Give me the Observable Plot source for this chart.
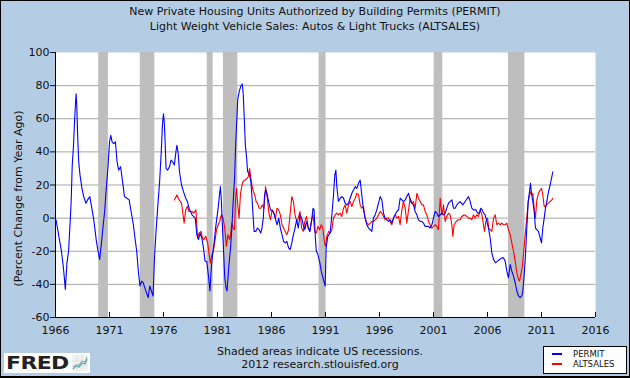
<!DOCTYPE html>
<html><head><meta charset="utf-8">
<script src="https://cdn.jsdelivr.net/npm/d3@7"></script>
<script src="https://cdn.jsdelivr.net/npm/@observablehq/plot@0.6"></script>
<style>
html,body{margin:0;padding:0;background:#b4cde4;}
#wrap{position:relative;width:630px;height:378px;background:#b4cde4;overflow:hidden;font-family:"DejaVu Sans",Verdana,sans-serif;color:#111;box-shadow:inset 0 0 0 1px #000, inset 0 -2px 0 #000;}
#wrap svg.plot{position:absolute;left:0;top:0;}
.t{position:absolute;white-space:nowrap;line-height:1;}
.title{left:0;width:630px;text-align:center;font-size:11px;}
.foot{left:0;width:640px;text-align:center;font-size:11px;}
#ylab{position:absolute;font-size:11px;width:260px;text-align:center;left:-112px;top:193px;transform:rotate(-90deg);line-height:1;white-space:nowrap;}
#legend{position:absolute;left:543px;top:346px;width:82px;height:26px;background:#fff;border:1px solid #000;}
#legend .sw{position:absolute;left:8px;width:10px;height:2px;}
#legend .lt{position:absolute;left:29px;font-size:8.5px;line-height:1;}
#logo{position:absolute;left:4px;top:353px;width:86px;height:20px;background:#fff;}
#logo .fred{position:absolute;left:2px;top:1px;font-size:18px;font-weight:bold;line-height:1;letter-spacing:-0.5px;transform:scaleX(1.22);transform-origin:left center;color:#222;font-family:"DejaVu Sans",sans-serif;}
</style>
</head><body>
<div id="wrap">
  <div class="t title" style="top:5.7px">New Private Housing Units Authorized by Building Permits (PERMIT)</div>
  <div class="t title" style="top:20.7px">Light Weight Vehicle Sales: Autos &amp; Light Trucks (ALTSALES)</div>
  <div id="ylab">(Percent Change from Year Ago)</div>
  <div class="t foot" style="top:346.4px">Shaded areas indicate US recessions.</div>
  <div class="t foot" style="top:359px">2012 research.stlouisfed.org</div>
  <div id="logo"><span class="fred">FRED</span>
    <svg style="position:absolute;left:68px;top:2px" width="16" height="16"><rect x="0" y="0" width="16" height="16" fill="#eef2f0"/><path d="M0 11H16M0 6H16M5 0V16M10 0V16" stroke="#d4d8dc" stroke-width="0.6"/><polyline points="1,14 4,11 7,12 10,8 13,9 15,4" fill="none" stroke="#6a9" stroke-width="1.3"/><polyline points="1,12 4,10 7,10 10,6 13,7 15,2" fill="none" stroke="#7ab" stroke-width="1"/></svg>
  </div>
  <div id="legend">
    <div class="sw" style="top:6px;background:#0000ff"></div><div class="lt" style="top:3px">PERMIT</div>
    <div class="sw" style="top:16px;background:#ff0000"></div><div class="lt" style="top:13px">ALTSALES</div>
  </div>
</div>
<script>
const xTicks = [1966, 1971, 1976, 1981, 1986, 1991, 1996, 2001, 2006, 2011, 2016];
const yTicks = [-60, -40, -20, 0, 20, 40, 60, 80, 100];
const gridTicks = [-40, -20, 0, 20, 40, 60, 80];
const recessionStart = [1970.0, 1973.85, 1980.05, 1981.55, 1990.4, 2001.06, 2007.94];
const recessionEnd   = [1970.9, 1975.2, 1980.6, 1982.88, 1991.05, 2001.86, 2009.46];

const permitT = [1966.05,1966.55,1966.70,1966.79,1966.91,1967.06,1967.21,1967.36,1967.45,1967.55,1967.67,1967.76,1967.85,1967.91,1967.97,1968.06,1968.15,1968.27,1968.45,1968.61,1968.82,1968.97,1969.18,1969.36,1969.52,1969.64,1969.79,1969.94,1970.09,1970.24,1970.39,1970.55,1970.70,1970.85,1971.00,1971.12,1971.24,1971.39,1971.55,1971.70,1971.85,1972.03,1972.21,1972.39,1972.61,1972.82,1973.00,1973.21,1973.36,1973.52,1973.67,1973.82,1973.97,1974.12,1974.27,1974.42,1974.58,1974.73,1974.88,1975.03,1975.18,1975.33,1975.48,1975.64,1975.79,1975.91,1976.00,1976.09,1976.24,1976.39,1976.55,1976.70,1976.85,1977.00,1977.15,1977.24,1977.36,1977.48,1977.67,1977.85,1978.06,1978.21,1978.36,
1978.64,1978.94,1979.09,1979.24,1979.39,1979.55,1979.70,1979.85,1980.00,1980.15,1980.30,1980.45,1980.55,1980.70,1980.82,1980.94,1981.06,1981.18,1981.27,1981.36,1981.45,1981.55,1981.67,1981.79,1981.88,1981.97,1982.09,1982.21,1982.33,1982.45,1982.58,1982.67,1982.76,1982.88,1983.03,1983.18,1983.30,1983.39,1983.48,1983.58,1983.70,1983.79,1983.94,1984.09,1984.18,1984.27,1984.39,1984.55,1984.70,1984.85,1985.00,1985.12,1985.24,1985.36,1985.48,1985.61,1985.73,1985.91,1986.15,1986.27,1986.39,1986.52,1986.67,1986.82,1986.97,1987.12,1987.27,1987.42,1987.58,1987.73,1987.88,1988.03,1988.18,1988.33,1988.48,1988.64,1988.79,1988.94,1989.09,1989.24,1989.39,1989.55,1989.70,1989.85,1989.94,1990.06,1990.15,1990.30,1990.45,1990.61,1990.76,1990.88,1990.97,1991.06,1991.21,
1991.43,1991.59,1991.74,1991.86,1991.96,1992.05,1992.20,1992.36,1992.51,1992.67,1992.82,1992.98,1993.13,1993.28,1993.44,1993.59,1993.75,1993.90,1994.06,1994.21,1994.36,1994.52,1994.67,1994.83,1994.98,1995.14,1995.29,1995.44,1995.60,1995.75,1995.91,1996.06,1996.22,1996.37,1996.52,1996.68,1996.83,1996.99,1997.14,1997.30,1997.45,1997.60,1997.76,1997.91,1998.07,1998.22,1998.38,1998.53,1998.69,1998.84,1998.99,1999.15,1999.30,1999.46,1999.61,1999.77,1999.92,2000.07,2000.23,2000.38,2000.54,2000.69,2000.85,2001.00,2001.15,2001.31,2001.46,2001.62,2001.77,2001.93,2002.08,2002.23,2002.39,2002.54,2002.70,2002.85,2003.01,2003.16,2003.31,
2003.47,2003.72,2003.93,2004.24,2004.40,2004.55,2004.70,2004.95,2005.07,2005.26,2005.38,2005.51,2005.63,2005.78,2005.94,2006.09,2006.25,2006.40,2006.56,2006.74,2006.93,2007.11,2007.33,2007.48,2007.64,2007.79,2007.94,2008.10,2008.25,2008.41,2008.56,2008.72,2008.87,2009.02,2009.18,2009.27,2009.40,2009.52,2009.64,2009.77,2009.89,2009.98,2010.07,2010.20,2010.32,2010.44,2010.57,2010.72,2010.88,2011.00,2011.12,2011.25,2011.37,2011.49,2011.65,2011.80,2011.96,2012.05];
const permitV = [-1,-20,-28,-34,-43,-27,-20,-2,10,32,44,58,69,75,68,48,34,26,18,13,9,11,13,6,0,-6,-14,-20,-25,-16,-6,4,18,30,46,50,46,45,46,34,29,31,22,13,12,11,4,-4,-12,-20,-32,-41,-38,-39,-42,-45,-48,-41,-44,-47,-22,-6,8,22,40,57,63,56,30,29,31,35,34,32,40,44,39,28,20,16,12,10,6,
2,0,-10,-13,-9,-12,-18,-26,-26,-34,-44,-28,-22,-14,-6,0,6,14,19,10,-4,-18,-36,-42,-44,-36,-26,-18,-6,10,24,42,56,72,77,80,81,74,60,44,36,28,27,22,14,4,-8,-8,-6,-7,-9,-6,0,14,17,14,10,5,4,2,-1,-4,0,-6,-10,-14,-15,-14,-18,-19,-15,-10,-6,-1,-6,2,0,-4,-7,-2,-6,-8,-2,6,5,-12,-20,-22,-26,-32,-36,-39,-41,-18,-11,
-9,2,14,26,29,19,10,12,13,12,9,8,9,12,15,17,19,18,21,23,14,5,0,-4,-6,-7,-8,0,2,5,9,13,11,3,0,-1,-2,-1,-3,0,2,4,5,12,11,10,11,13,15,11,9,8,4,2,-1,-2,-2,-3,-5,-5,-5,-6,-4,0,4,3,1,2,3,2,3,6,9,10,11,6,6,8,9,
10,8,10,13,10,6,5,5,3,3,6,5,3,2,-2,-6,-12,-21,-25,-27,-26,-25,-24,-24,-26,-32,-36,-28,-32,-35,-39,-44,-47,-48,-47,-44,-34,-22,-6,10,16,21,15,10,4,-6,-7,-8,-12,-15,-6,0,6,10,16,20,25,28];

const altT = [1977.00,1977.24,1977.45,1977.67,1977.79,1977.91,1978.06,1978.21,1978.36,
1978.64,1978.79,1979.00,1979.15,1979.30,1979.48,1979.61,1979.73,1979.91,1980.09,1980.21,1980.33,1980.45,1980.61,1980.76,1980.91,1981.06,1981.21,1981.36,1981.52,1981.67,1981.82,1981.97,1982.12,1982.21,1982.33,1982.45,1982.58,1982.67,1982.76,1982.88,1983.00,1983.12,1983.24,1983.36,1983.55,1983.73,1983.85,1983.97,1984.09,1984.21,1984.33,1984.45,1984.58,1984.70,1984.85,1985.00,1985.15,1985.30,1985.45,1985.61,1985.76,1985.91,1986.06,1986.21,1986.36,1986.52,1986.67,1986.82,1986.97,1987.12,1987.27,1987.42,1987.58,1987.73,1987.88,1988.03,1988.18,1988.33,1988.48,1988.64,1988.79,1988.94,1989.09,1989.24,1989.39,1989.55,1989.70,1989.85,1990.00,1990.15,1990.30,1990.45,1990.61,1990.76,1990.88,1991.00,1991.12,1991.30,
1991.43,1991.59,1991.74,1991.90,1992.05,1992.20,1992.36,1992.51,1992.67,1992.82,1992.98,1993.13,1993.28,1993.44,1993.59,1993.75,1993.90,1994.06,1994.21,1994.36,1994.52,1994.67,1994.83,1994.98,1995.14,1995.29,1995.44,1995.60,1995.75,1995.91,1996.06,1996.22,1996.37,1996.52,1996.68,1996.83,1996.99,1997.14,1997.30,1997.45,1997.60,1997.76,1997.91,1998.07,1998.22,1998.38,1998.53,1998.69,1998.84,1998.99,1999.15,1999.30,1999.46,1999.61,1999.77,1999.92,2000.07,2000.23,2000.38,2000.54,2000.69,2000.85,2001.00,2001.15,2001.31,2001.46,2001.62,2001.71,2001.80,2001.93,2002.08,2002.23,2002.39,2002.54,2002.70,2002.79,2002.91,2003.10,2003.31,
2003.47,2003.62,2003.84,2004.09,2004.24,2004.40,2004.55,2004.70,2004.86,2005.01,2005.17,2005.32,2005.48,2005.63,2005.72,2005.85,2006.00,2006.12,2006.25,2006.40,2006.56,2006.71,2006.86,2007.02,2007.17,2007.33,2007.48,2007.64,2007.79,2007.94,2008.10,2008.25,2008.41,2008.56,2008.72,2008.87,2008.96,2009.09,2009.21,2009.33,2009.49,2009.64,2009.77,2009.89,2010.01,2010.10,2010.20,2010.32,2010.44,2010.57,2010.72,2010.88,2011.00,2011.12,2011.25,2011.37,2011.49,2011.65,2011.80,2011.96,2012.05];
const altV = [11,14,11,9,3,-3,5,7,4,
4,3,5,-12,-9,-8,-12,-13,-11,-15,-21,-27,-23,-20,-14,-7,-4,-2,2,0,-6,-17,-10,-13,-10,-3,-6,-7,12,18,8,0,14,19,22,23,24,25,30,24,19,16,14,10,9,6,6,8,6,19,12,3,-1,5,3,0,6,5,2,-4,-6,-8,-10,-7,3,13,10,2,-2,0,4,-6,-8,-2,1,-5,-8,-2,2,-8,-9,-5,-7,-4,-6,-14,-17,-11,-8,
-9,-7,0,2,3,2,3,1,6,8,3,8,10,7,10,12,15,14,8,6,7,0,-3,-4,-3,-2,-2,-1,0,2,4,3,1,-1,0,0,-2,-4,0,2,0,1,-4,5,10,6,-3,5,12,9,10,6,15,12,10,8,8,4,2,-2,-4,-6,-5,-4,-5,-7,12,6,2,8,-2,1,3,2,-4,-11,-4,-2,-1,
-1,1,2,1,0,0,-1,2,0,2,1,5,2,-4,-8,-2,0,-6,-7,-8,0,2,-4,-3,-4,-3,-4,-4,-3,-7,-10,-15,-20,-26,-33,-37,-38,-34,-30,-22,-10,0,10,14,16,14,15,6,0,11,15,17,18,14,7,7,8,9,10,11,12];

const permit = permitT.map((t, i) => ({t, v: permitV[i]}));
const alt = altT.map((t, i) => ({t, v: altV[i]}));
const recessions = recessionStart.map((s, i) => ({start: s, end: recessionEnd[i]}));

const chart = Plot.plot({
  width: 630, height: 378,
  marginLeft: 55, marginRight: 35, marginTop: 52, marginBottom: 61,
  x: {domain: [1966, 2016]},
  y: {domain: [-60, 100]},
  style: {background: "transparent", fontFamily: "DejaVu Sans, Verdana, sans-serif", fontSize: "11px", color: "#111", overflow: "visible"},
  marks: [
    Plot.frame({fill: "white", stroke: "none"}),
    Plot.gridY(gridTicks, {stroke: "#a6a6a6", strokeOpacity: 1}),
    Plot.rect(recessions, {x1: "start", x2: "end", fill: "#bebebe"}),
    Plot.ruleY([-60], {stroke: "#000"}),
    Plot.ruleX([1966], {stroke: "#000"}),
    Plot.line(alt, {x: "t", y: "v", stroke: "#ff0000", strokeWidth: 1.1}),
    Plot.line(permit, {x: "t", y: "v", stroke: "#0000ff", strokeWidth: 1.1}),
    Plot.axisY({ticks: yTicks, tickSize: 5, tickPadding: 1, label: null, tickFormat: d => String(d)}),
    Plot.axisX({ticks: xTicks, tickSize: 0, tickPadding: 9, label: null, tickFormat: d => String(d)}),
    Plot.axisX({ticks: xTicks, tickSize: -5, text: null, label: null})
  ]
});
document.getElementById("wrap").appendChild(chart);
</script>
</body></html>
